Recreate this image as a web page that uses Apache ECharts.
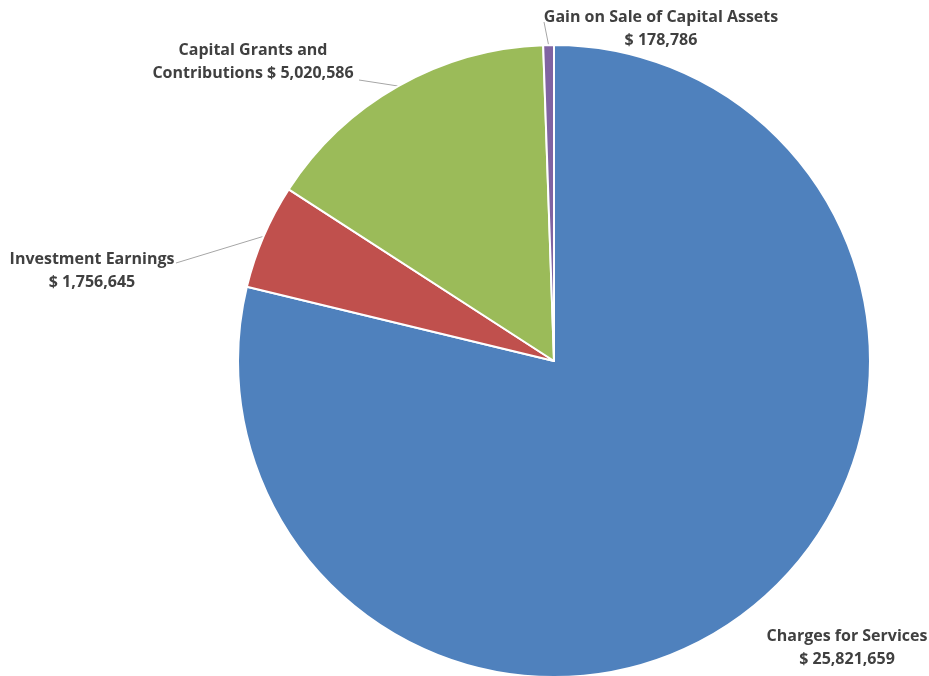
<!DOCTYPE html>
<html>
<head>
<meta charset="utf-8">
<script src="https://cdn.jsdelivr.net/npm/echarts@6/dist/echarts.min.js"></script>
<style>
  html, body { margin: 0; padding: 0; background: #ffffff; }
  #chart { width: 929px; height: 676px; }
</style>
</head>
<body>
<div id="chart"></div>
<script>
// Revenue sources, in slice order clockwise from 12 o'clock
const categories = [
  'Charges for Services',
  'Investment Earnings',
  'Capital Grants and Contributions',
  'Gain on Sale of Capital Assets'
];
const values = [25821659, 1756645, 5020586, 178786];
// Label text for each slice name (explicit line breaks where the name wraps)
const labelNames = [
  'Charges for Services',
  'Investment Earnings',
  'Capital Grants and\nContributions',
  'Gain on Sale of Capital Assets'
];

const colors = ['#4F81BD', '#C0504D', '#9BBB59', '#8064A2'];

// Label placement: centre x / centre y of the text block, and where its leader meets it
const labelPlacement = [
  { x: 847, y: 648, line: null },
  { x: 92, y: 271, line: [176, 263] },
  { x: 253, y: 62, line: [359, 80] },
  { x: 661, y: 29, line: [544, 22] }
];

function fmtMoney(v) {
  return '$ ' + v.toLocaleString('en-US');
}

const chart = echarts.init(document.getElementById('chart'), null, { renderer: 'canvas' });

chart.setOption({
  animation: false,
  color: colors,
  series: [{
    type: 'pie',
    center: [554, 361],
    radius: 316,
    startAngle: 90,
    clockwise: true,
    data: categories.map((c, i) => ({
      name: c,
      value: values[i],
      labelLine: { show: labelPlacement[i].line !== null }
    })),
    itemStyle: { borderColor: '#ffffff', borderWidth: 2 },
    label: {
      show: true,
      position: 'outside',
      formatter: p => {
        const n = labelNames[p.dataIndex];
        return n + (n.indexOf('\n') >= 0 ? ' ' : '\n') + fmtMoney(p.value);
      },
      fontFamily: 'Open Sans',
      fontWeight: 'bold',
      fontSize: 16,
      lineHeight: 23,
      color: '#404040',
      align: 'center',
      overflow: 'none'
    },
    labelLine: {
      show: true,
      lineStyle: { color: '#a6a6a6', width: 1 }
    },
    labelLayout: params => {
      const pl = labelPlacement[params.dataIndex];
      const out = {
        x: pl.x,
        y: pl.y,
        align: 'center',
        verticalAlign: 'middle',
        width: 300
      };
      if (pl.line && params.labelLinePoints) {
        const s = params.labelLinePoints[0];
        out.labelLinePoints = [s, s, pl.line];
      }
      return out;
    }
  }]
});
</script>
</body>
</html>
